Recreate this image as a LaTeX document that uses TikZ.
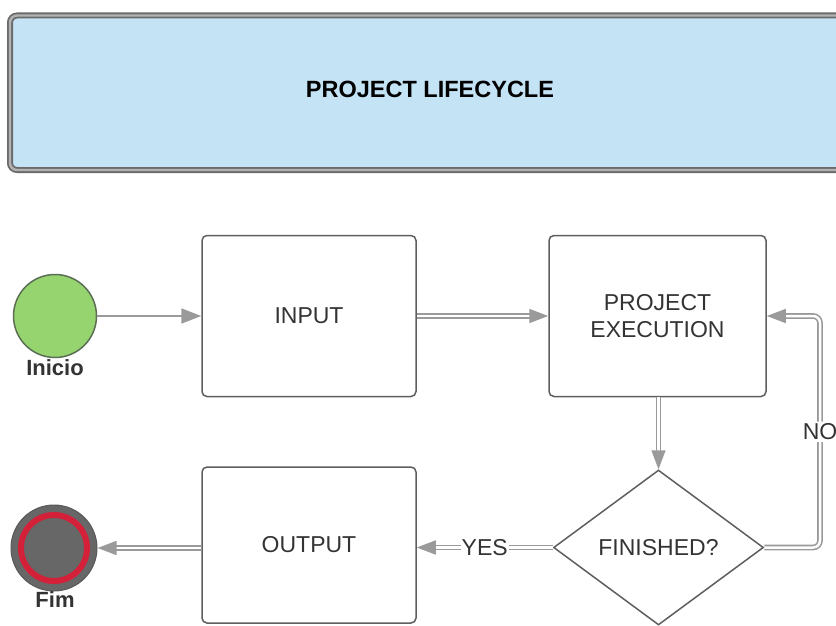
\documentclass[tikz,border=0pt]{standalone}
\usepackage{fontspec}
\setmainfont{Liberation Sans}
\usetikzlibrary{shapes.geometric,arrows.meta}

\definecolor{boxline}{HTML}{5E5E5E}
\definecolor{linkgray}{HTML}{9A9A9A}
\definecolor{titlefill}{HTML}{C4E3F5}
\definecolor{framedark}{HTML}{6A6A6A}
\definecolor{framelight}{HTML}{B2B2B2}
\definecolor{startgreen}{HTML}{96D46F}
\definecolor{startedge}{HTML}{5C6E54}
\definecolor{endgray}{HTML}{676767}
\definecolor{endred}{HTML}{D3213A}
\definecolor{labeltext}{HTML}{333333}

\tikzset{
  txt/.style={font=\fontsize{23}{27}\selectfont, text=labeltext, align=center},
  stepbox/.style={txt, draw=boxline, line width=1.5pt, rounded corners=5pt,
    minimum width=214pt, minimum height=160pt, inner sep=0pt},
  decision/.style={txt, diamond, draw=boxline, line width=1.5pt,
    minimum width=210pt, minimum height=155pt, inner sep=0pt},
  single/.style={draw=linkgray, line width=2pt,
    -{Triangle[length=20pt,width=15pt]}},
  twin/.style={draw=linkgray, line width=1.6pt, double=white,
    double distance=2.5pt, -{Triangle[length=19pt,width=14pt]}},
  caption/.style={font=\bfseries\fontsize{22}{26}\selectfont, text=labeltext},
}

\begin{document}
\begin{tikzpicture}[x=1pt, y=-1pt]
\useasboundingbox (0,0) rectangle (836,626);

% title banner (runs off the right edge)
\draw[fill=titlefill, draw=framedark, line width=1.8pt,
      double=framelight, double distance=2.4pt, rounded corners=7pt]
  (10,15.5) rectangle (860,170);
\node[font=\bfseries\fontsize{23.5}{27}\selectfont, text=black] (title) at (430,89) {PROJECT LIFECYCLE};

% start and end markers
\node[circle, fill=startgreen, draw=startedge, line width=1.5pt,
      minimum size=83pt, inner sep=0pt] (start) at (55,316) {};
\node[caption] (startlbl) at (55,368) {Inicio};

\node[circle, fill=endgray, draw=endgray!85!black, line width=1pt,
      minimum size=86pt, inner sep=0pt] (stop) at (54,548) {};
\draw[endred, line width=6pt] (stop.center) circle[radius=33pt];
\node[caption] (stoplbl) at (55,600) {Fim};

% process steps
\node[stepbox, minimum height=161pt] (input) at (309,316) {INPUT};
\node[stepbox, minimum width=217pt, minimum height=161pt] (exec) at (657.5,316) {PROJECT\\EXECUTION};
\node[decision] (check) at (658.5,547.5) {FINISHED?};
\node[stepbox, minimum height=156pt] (output) at (309,545) {OUTPUT};

% connectors
\draw[single] (start.east) -- (input.west);
\draw[twin] (input.east) -- (exec.west);
\draw[twin] (exec.south -| check.north) -- (check.north);
\draw[twin] (check.west) -- node[txt, fill=white, inner sep=1pt] (yes) {YES} (output.east |- check.west);
\draw[twin] (output.west |- stop.east) -- (stop.east);
\draw[twin, rounded corners=7pt] (check.east) -- (820,547.5) -- (820,316)
  node[txt, pos=0.5, fill=white, inner sep=2pt] (no) {NO} -- (exec.east);
\end{tikzpicture}
\end{document}
